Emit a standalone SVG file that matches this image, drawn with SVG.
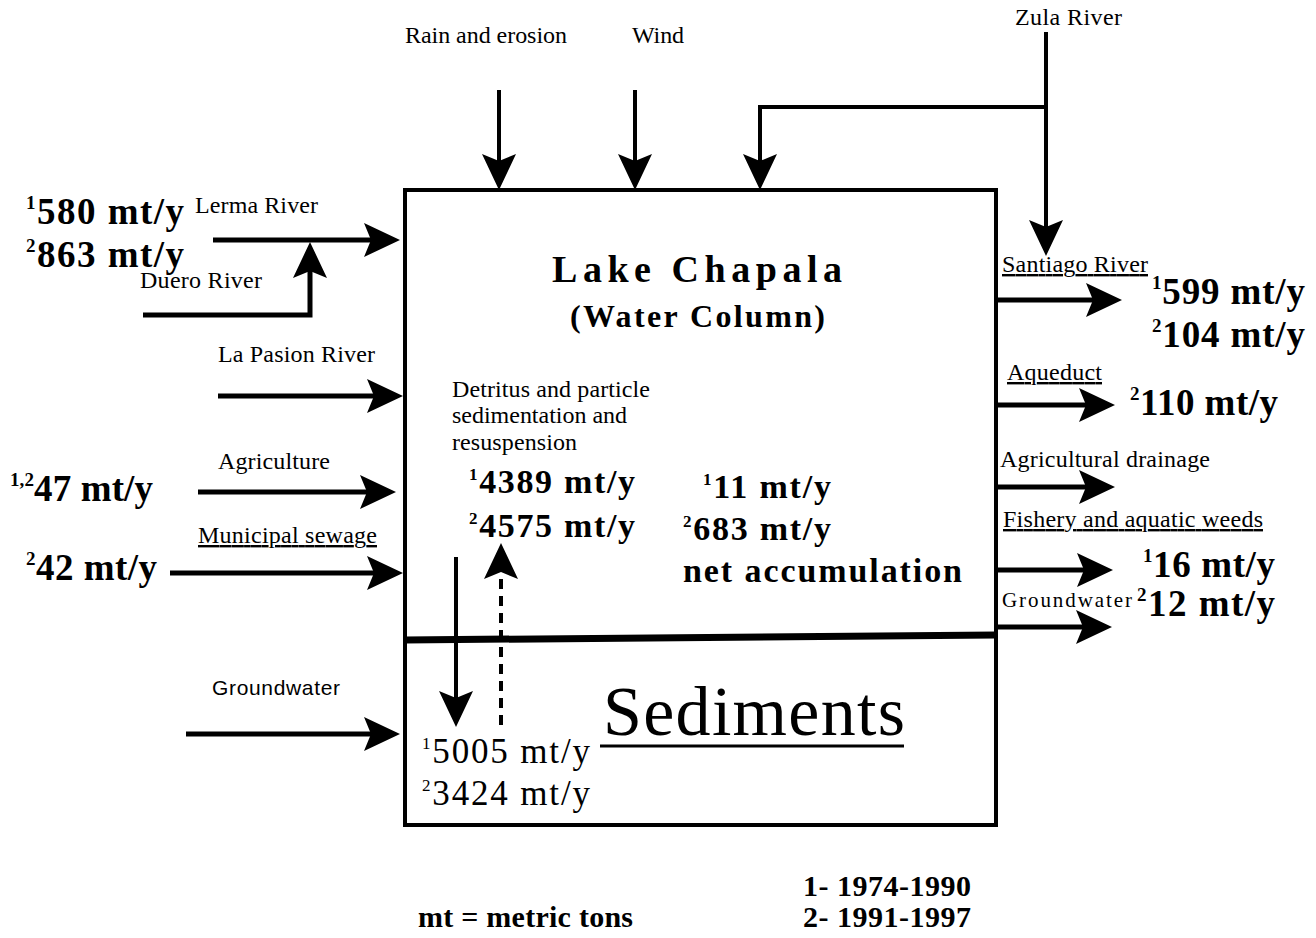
<svg xmlns="http://www.w3.org/2000/svg" width="1316" height="938" viewBox="0 0 1316 938">
<style>
text{font-family:"Liberation Serif","Times New Roman",serif;fill:#000}
.lbl{font-size:24px}
.lbls{font-size:21px;font-family:"Liberation Sans",Arial,sans-serif}
.val{font-size:37px;font-weight:bold}
.ival{font-size:34px;font-weight:bold}
.sup{font-size:19px}
.isup{font-size:17px}
.ul{text-decoration:underline}
.title{font-size:38px;font-weight:bold}
.sub{font-size:32px;font-weight:bold}
.leg{font-size:30px;font-weight:bold}
.arr{fill:none;stroke:#000;stroke-width:5;marker-end:url(#ah)}
.arr4{fill:none;stroke:#000;stroke-width:4;marker-end:url(#ah)}
.dash{fill:none;stroke:#000;stroke-width:4;stroke-dasharray:10 7;marker-end:url(#ah)}
</style>
<defs>
<marker id="ah" markerUnits="userSpaceOnUse" markerWidth="40" markerHeight="40" viewBox="0 -20 40 40" refX="16" refY="0" orient="auto">
<path d="M0,-17 L36,0 L0,17 L7,0 Z" fill="#000" stroke="none"/>
</marker>
</defs>
<rect width="1316" height="938" fill="#fff"/>

<g id="lake">
<rect x="405" y="190" width="591" height="635" fill="none" stroke="#000" stroke-width="4"/>
<line x1="405" y1="640" x2="996" y2="635" stroke="#000" stroke-width="7"/>
<text class="title" x="552" y="282" textLength="290" lengthAdjust="spacing">Lake Chapala</text>
<text class="sub" x="570" y="327" textLength="255" lengthAdjust="spacing">(Water Column)</text>
</g>

<g id="exchange">
<text class="lbl" x="452" y="397" textLength="198" lengthAdjust="spacing">Detritus and particle</text>
<text class="lbl" x="452" y="423" textLength="175" lengthAdjust="spacing">sedimentation and</text>
<text class="lbl" x="452" y="450" textLength="125" lengthAdjust="spacing">resuspension</text>
<text class="ival" x="469" y="493" textLength="166" lengthAdjust="spacing"><tspan class="isup" dy="-13">1</tspan><tspan dy="13">4389 mt/y</tspan></text>
<text class="ival" x="469" y="537" textLength="166" lengthAdjust="spacing"><tspan class="isup" dy="-13">2</tspan><tspan dy="13">4575 mt/y</tspan></text>
</g>

<g id="net-accumulation">
<text class="ival" x="703" y="498" textLength="128" lengthAdjust="spacing"><tspan class="isup" dy="-13">1</tspan><tspan dy="13">11 mt/y</tspan></text>
<text class="ival" x="683" y="540" textLength="148" lengthAdjust="spacing"><tspan class="isup" dy="-13">2</tspan><tspan dy="13">683 mt/y</tspan></text>
<text class="ival" x="683" y="582" textLength="279" lengthAdjust="spacing">net accumulation</text>
</g>

<g id="sediments">
<text x="603" y="735" font-size="70" textLength="302" lengthAdjust="spacing">Sediments</text>
<line x1="600" y1="746" x2="904" y2="746" stroke="#000" stroke-width="3"/>
<text x="422" y="763" font-size="35" textLength="168" lengthAdjust="spacing"><tspan font-size="17" dy="-14">1</tspan><tspan dy="14">5005 mt/y</tspan></text>
<text x="422" y="805" font-size="35" textLength="168" lengthAdjust="spacing"><tspan font-size="17" dy="-14">2</tspan><tspan dy="14">3424 mt/y</tspan></text>
</g>

<g id="rain">
<text class="lbl" x="405" y="43" textLength="162" lengthAdjust="spacing">Rain and erosion</text>
</g>
<g id="wind">
<text class="lbl" x="632" y="43" textLength="52" lengthAdjust="spacing">Wind</text>
</g>
<g id="zula">
<text class="lbl" x="1015" y="25" textLength="107" lengthAdjust="spacing">Zula River</text>
</g>

<g id="lerma">
<text class="val" x="26" y="224" textLength="158" lengthAdjust="spacing"><tspan class="sup" dy="-15">1</tspan><tspan dy="15">580 mt/y</tspan></text>
<text class="val" x="26" y="267" textLength="158" lengthAdjust="spacing"><tspan class="sup" dy="-15">2</tspan><tspan dy="15">863 mt/y</tspan></text>
<text class="lbl" x="195" y="213" textLength="123" lengthAdjust="spacing">Lerma River</text>
</g>
<g id="duero">
<text class="lbl" x="140" y="288" textLength="122" lengthAdjust="spacing">Duero River</text>
</g>
<g id="la-pasion">
<text class="lbl" x="218" y="362" textLength="157" lengthAdjust="spacing">La Pasion River</text>
</g>
<g id="agriculture">
<text class="lbl" x="218" y="469" textLength="112" lengthAdjust="spacing">Agriculture</text>
<text class="val" x="10" y="501" textLength="143" lengthAdjust="spacing"><tspan class="sup" dy="-15">1,2</tspan><tspan dy="15">47 mt/y</tspan></text>
</g>
<g id="municipal">
<text class="lbl ul" x="198" y="543" textLength="179" lengthAdjust="spacing">Municipal sewage</text>
<text class="val" x="26" y="580" textLength="131" lengthAdjust="spacing"><tspan class="sup" dy="-15">2</tspan><tspan dy="15">42 mt/y</tspan></text>
</g>
<g id="groundwater-in">
<text class="lbls" x="212" y="695" textLength="128" lengthAdjust="spacing">Groundwater</text>
</g>

<g id="santiago">
<text class="lbl ul" x="1002" y="272" textLength="146" lengthAdjust="spacing">Santiago River</text>
<text class="val" x="1152" y="304" textLength="153" lengthAdjust="spacing"><tspan class="sup" dy="-15">1</tspan><tspan dy="15">599 mt/y</tspan></text>
<text class="val" x="1152" y="347" textLength="153" lengthAdjust="spacing"><tspan class="sup" dy="-15">2</tspan><tspan dy="15">104 mt/y</tspan></text>
</g>
<g id="aqueduct">
<text class="lbl ul" x="1007" y="380" textLength="95" lengthAdjust="spacing">Aqueduct</text>
<text class="val" x="1130" y="415" textLength="148" lengthAdjust="spacing"><tspan class="sup" dy="-15">2</tspan><tspan dy="15">110 mt/y</tspan></text>
</g>
<g id="agri-drainage">
<text class="lbl" x="1000" y="467" textLength="210" lengthAdjust="spacing">Agricultural drainage</text>
</g>
<g id="fishery">
<text class="lbl ul" x="1003" y="527" textLength="260" lengthAdjust="spacing">Fishery and aquatic weeds</text>
<text class="val" x="1143" y="577" textLength="132" lengthAdjust="spacing"><tspan class="sup" dy="-15">1</tspan><tspan dy="15">16 mt/y</tspan></text>
</g>
<g id="groundwater-out">
<text x="1002" y="607" font-size="21" textLength="130" lengthAdjust="spacing">Groundwater</text>
<text class="val" x="1137" y="616" textLength="138" lengthAdjust="spacing"><tspan class="sup" dy="-15">2</tspan><tspan dy="15">12 mt/y</tspan></text>
</g>

<g id="legend">
<text class="leg" x="418" y="927" textLength="215" lengthAdjust="spacing">mt = metric tons</text>
<text class="leg" x="803" y="896" textLength="168" lengthAdjust="spacing">1- 1974-1990</text>
<text class="leg" x="803" y="927" textLength="168" lengthAdjust="spacing">2- 1991-1997</text>
</g>

<g id="connectors">
<path class="arr4" d="M499,90 V170"/>
<path class="arr4" d="M635,90 V170"/>
<path class="arr4" d="M1046,107 H760 V170"/>
<path class="arr4" d="M1046,32 V236"/>
<path class="arr" d="M213,240 H380"/>
<path class="arr" d="M143,315 H310 V262"/>
<path class="arr" d="M218,396 H383"/>
<path class="arr" d="M198,492 H376"/>
<path class="arr" d="M170,573 H383"/>
<path class="arr" d="M186,734 H380"/>
<path class="arr" d="M996,300 H1102"/>
<path class="arr" d="M996,405 H1095"/>
<path class="arr" d="M996,487 H1095"/>
<path class="arr" d="M996,570 H1093"/>
<path class="arr" d="M996,627 H1092"/>
<path class="arr4" d="M456,557 V707"/>
<path class="dash" d="M501,725 V563"/>
</g>
</svg>
